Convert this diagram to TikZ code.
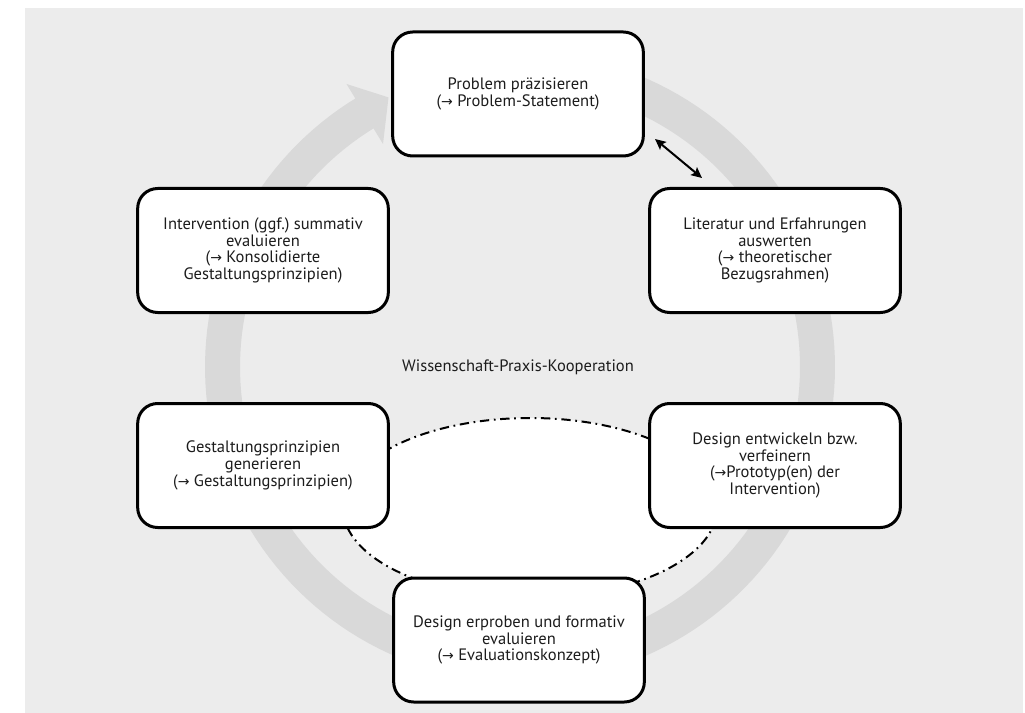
\documentclass[tikz,border=0pt]{standalone}
\usepackage{fontspec}
\setmainfont{PT Sans}
\newfontfamily\arrowfont{DejaVu Sans}
\newcommand{\rarr}{{\arrowfont\fontsize{10.5}{10}\selectfont →}}
\usetikzlibrary{arrows.meta}
\definecolor{panel}{HTML}{ECECEC}
\definecolor{ringc}{HTML}{D9D9D9}
\definecolor{txt}{HTML}{1C1C1C}
\frenchspacing
\begin{document}
\begin{tikzpicture}[x=0.75pt,y=-0.75pt,
  box/.style={draw=black, line width=2.25pt, fill=white, rounded corners=15pt,
    minimum width=188pt, minimum height=93pt, align=center, text=txt,
    font=\fontsize{12.4}{12.6}\selectfont, inner sep=0pt},
  lbl/.style={text=txt, font=\fontsize{12.4}{12.6}\selectfont, inner sep=0pt},
  dashdotline/.style={draw=black, line width=1.5pt,
    dash pattern=on 7pt off 3.5pt on 1.3pt off 3.5pt},
  link/.style={line width=1.5pt, {Stealth[length=8pt,width=7.5pt,inset=1.5pt]}-{Stealth[length=8pt,width=7.5pt,inset=1.5pt]}}
]
\useasboundingbox (0,0) rectangle (1025,713);
\fill[panel] (25,8) rectangle (1023,713);
% big cycle ring
\draw[ringc, line width=26.25pt]
  plot[domain=121:440, samples=160] ({520+297.5*cos(\x)},{367-297.5*sin(\x)});
\fill[ringc] (346.5,84) -- (388.5,97.4) -- (383,144) -- cycle;
% cooperation ellipse
\draw[dashdotline, fill=white] (530,508) ellipse [x radius=140.25pt, y radius=67.5pt];
% boxes
\node[box] (top) at (518,94) {Problem präzisieren\\(\rarr{} Problem-Statement)};
\node[box] (inter) at (263,250.5) {Intervention (ggf.) summativ\\evaluieren\\(\rarr{} Konsolidierte\\Gestaltungsprinzipien)};
\node[box] (lit) at (775,250.5) {Literatur und Erfahrungen\\auswerten\\(\rarr{} theoretischer\\Bezugsrahmen)};
\node[box] (gest) at (263,465.5) {Gestaltungsprinzipien\\generieren\\(\rarr{} Gestaltungsprinzipien)};
\node[box] (dev) at (775,465.5) {Design entwickeln bzw.\\verfeinern\\(\rarr{}Prototyp(en) der\\Intervention)};
\node[box] (eval) at (519,640) {Design erproben und formativ\\evaluieren\\(\rarr{} Evaluationskonzept)};
\node[lbl] (coop) at (518,367) {Wissenschaft-Praxis-Kooperation};
% double arrow between top and lit
\coordinate (a1) at (655,139);
\coordinate (a2) at (702,178);
\draw[link] (a1) -- (a2);
\end{tikzpicture}
\end{document}
